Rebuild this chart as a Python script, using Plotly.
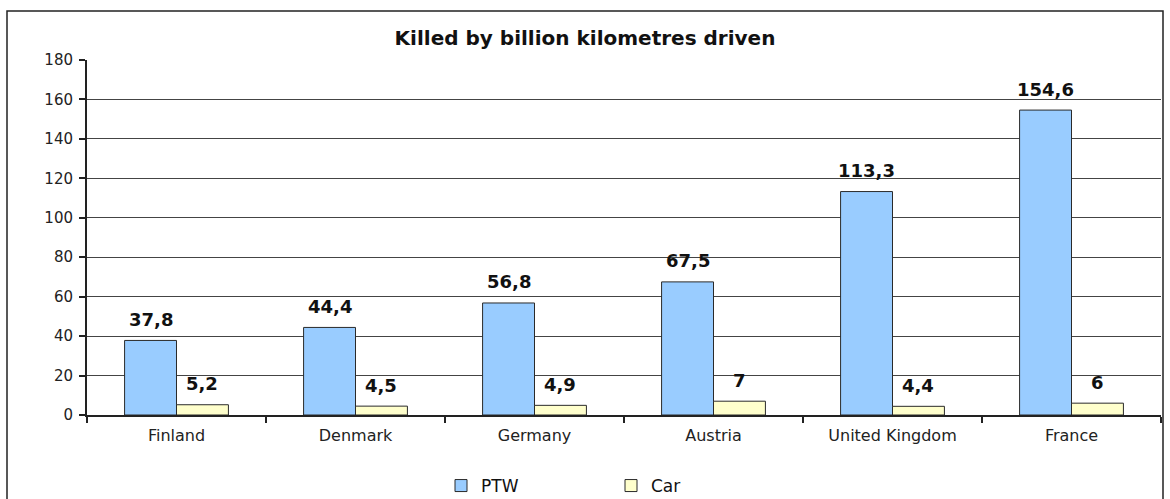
import plotly.graph_objects as go

categories = ["Finland", "Denmark", "Germany", "Austria", "United Kingdom", "France"]
ptw_values = [37.8, 44.4, 56.8, 67.5, 113.3, 154.6]
car_values = [5.2, 4.5, 4.9, 7, 4.4, 6]
ptw_labels = ["37,8", "44,4", "56,8", "67,5", "113,3", "154,6"]
car_labels = ["5,2", "4,5", "4,9", "7", "4,4", "6"]
title_text = "Killed by billion kilometres driven"

W, H = 1170, 499
ML, MR, MT, MB = 87, 9, 60, 84
BARGAP = 0.42
FONT = "DejaVu Sans, Liberation Sans, Arial, sans-serif"

plot_w = W - ML - MR
plot_h = H - MT - MB
cat_w = plot_w / len(categories)
bar_w = cat_w * (1 - BARGAP) / 2
offset = bar_w / 2

fig = go.Figure()
fig.add_trace(go.Bar(
    name="PTW", x=categories, y=ptw_values,
    marker=dict(color="#99CCFF", line=dict(color="#2a2a2a", width=1)),
))
fig.add_trace(go.Bar(
    name="Car", x=categories, y=car_values,
    marker=dict(color="#FFFFCC", line=dict(color="#2a2a2a", width=1)),
))

annotations = []
for cat, v, lab in zip(categories, ptw_values, ptw_labels):
    annotations.append(dict(x=cat, y=v, text=lab, xref="x", yref="y", showarrow=False,
                            xshift=-offset, yshift=21, yanchor="middle",
                            font=dict(family=FONT, size=18, color="#111111", weight="bold")))
for cat, v, lab in zip(categories, car_values, car_labels):
    annotations.append(dict(x=cat, y=v, text=lab, xref="x", yref="y", showarrow=False,
                            xshift=offset, yshift=21, yanchor="middle",
                            font=dict(family=FONT, size=18, color="#111111", weight="bold")))

# outer frame in paper coordinates
fx0 = (7 - ML) / plot_w
fx1 = (1163 - ML) / plot_w
fy1 = (H - MB - 11) / plot_h
fy0 = (H - MB - 530) / plot_h

fig.update_layout(
    width=W, height=H,
    margin=dict(l=ML, r=MR, t=MT, b=MB, autoexpand=False),
    paper_bgcolor="white", plot_bgcolor="white",
    barmode="group", bargap=BARGAP, bargroupgap=0,
    title=dict(text=title_text, x=0.5, xref="container", xanchor="center",
               y=1 - 38 / H, yref="container", yanchor="middle",
               font=dict(family=FONT, size=20, color="#111111", weight="bold")),
    font=dict(family=FONT, color="#222222"),
    xaxis=dict(type="category", tickson="boundaries", ticks="outside", ticklen=6,
               tickcolor="#222222", tickwidth=1.5, showline=True, linecolor="#222222",
               linewidth=2, showgrid=False, tickfont=dict(size=16, color="#222222"),
               ticklabelstandoff=5, automargin=False),
    yaxis=dict(range=[0, 180], dtick=20, ticks="outside", ticklen=6, tickcolor="#222222",
               tickwidth=1.5, showline=True, linecolor="#222222", linewidth=2,
               showgrid=True, gridcolor="#444444", gridwidth=1, zeroline=False,
               tickfont=dict(size=15, color="#222222"), ticklabelstandoff=3,
               automargin=False),
    legend=dict(orientation="h", x=(441 - ML) / plot_w, xanchor="left",
                yref="container", y=(H - 486) / H, yanchor="middle",
                entrywidth=125, entrywidthmode="pixels",
                font=dict(family=FONT, size=17, color="#111111"),
                bgcolor="rgba(0,0,0,0)"),
    annotations=annotations,
    shapes=[dict(type="rect", xref="paper", yref="paper", x0=fx0, x1=fx1, y0=fy0, y1=fy1,
                 line=dict(color="#222222", width=1.5), fillcolor="rgba(0,0,0,0)",
                 layer="below")],
    showlegend=True,
)

fig.write_html("out.html", config={"displayModeBar": False},
               post_script="document.body.style.margin='0';document.body.style.overflow='hidden';")
